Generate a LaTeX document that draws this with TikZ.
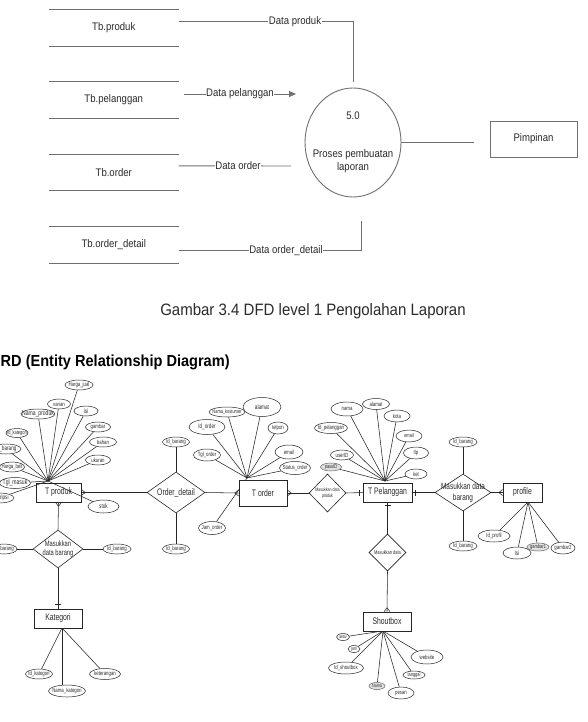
\documentclass[tikz,border=0pt]{standalone}
\usepackage{fontspec}
\setmainfont{Liberation Sans}
\newfontfamily\dfdf[FakeStretch=0.87]{Liberation Sans}
\newfontfamily\erf[FakeStretch=0.72]{Liberation Sans}
\newfontfamily\capf[FakeStretch=0.91]{Liberation Sans}
\usetikzlibrary{shapes.geometric,arrows.meta,backgrounds}
\definecolor{dln}{HTML}{707070}
\definecolor{txc}{HTML}{2B2B2B}
\newcommand\attrnode[7]{\node[attrshape,minimum width=#4pt,minimum height=#5pt,label={[attrlbl,font=\erf\fontsize{#6pt}{#6pt}\selectfont]center:{#7}}] (#1) at (#2,#3) {};}
\newcommand\mkCrowE[1]{\draw[erline] (#1.east) ++(4,0) -- ++(-4,-3) (#1.east) ++(4,0) -- ++(-4,3);}
\newcommand\mkCrowW[1]{\draw[erline] (#1.west) ++(-4,0) -- ++(4,-3) (#1.west) ++(-4,0) -- ++(4,3);}
\newcommand\mkCrowS[1]{\draw[erline] (#1.south) ++(0,4) -- ++(-3,-4) (#1.south) ++(0,4) -- ++(3,-4);}
\newcommand\mkCrowN[1]{\draw[erline] (#1.north) ++(0,-4) -- ++(-3,4) (#1.north) ++(0,-4) -- ++(3,4);}
\newcommand\mkBarW[1]{\draw[erline] (#1.west) ++(-3,-3) -- ++(0,6);}
\newcommand\mkBarE[1]{\draw[erline] (#1.east) ++(3,-3) -- ++(0,6);}
\newcommand\mkBarS[1]{\draw[erline] (#1.south) ++(-3,3) -- ++(6,0);}
\newcommand\mkBarN[1]{\draw[erline] (#1.north) ++(-3,-4) -- ++(6,0);}
\begin{document}
\begin{tikzpicture}[x=1pt,y=-1pt,
  dfdline/.style={draw=dln,line width=0.9pt},
  dfdtxt/.style={font=\dfdf\fontsize{11pt}{13pt}\selectfont,text=txc,inner sep=0.5pt},
  flowlbl/.style={dfdtxt,fill=white,inner sep=0.6pt},
  store/.style={dfdtxt,minimum width=129.5pt,minimum height=36pt,inner sep=0pt},
  erline/.style={draw=black!85,line width=0.55pt},
  ent/.style={rectangle,draw=black!85,line width=0.6pt,inner sep=0pt,text=txc,font=\erf\fontsize{9.5pt}{10pt}\selectfont},
  rel/.style={diamond,draw=black!85,fill=white,line width=0.6pt,inner sep=0pt},
  rellbl/.style={inner sep=0pt,text=txc,align=center},
  attrshape/.style={ellipse,draw=black!85,fill=white,line width=0.5pt,inner sep=0pt},
  attrlbl/.style={inner sep=0pt,text=txc},
]
\useasboundingbox (0,0) rectangle (588,722);
\begin{pgfonlayer}{background}
\fill[white] (0,0) rectangle (588,722);
\end{pgfonlayer}

% ---------------- DFD ----------------
\node[store] (tbprod) at (113.75,28) {Tb.produk};
\node[store] (tbpel) at (113.75,100) {Tb.pelanggan};
\node[store] (tbord) at (113.75,172.5) {Tb.order};
\node[store] (tbod) at (113.75,245) {Tb.order\_detail};
\foreach \s in {tbprod,tbpel,tbord,tbod}
  \draw[dfdline] (\s.north west) -- (\s.north east) (\s.south west) -- (\s.south east);

\node[ellipse,draw=dln,line width=0.9pt,minimum width=96pt,minimum height=109pt,inner sep=0pt] (proc) at (353,142.5) {};
\node[dfdtxt] (procnum) at (353,116) {5.0};
\node[dfdtxt,align=center] (proctxt) at (353,161.5) {Proses pembuatan\\laporan};
\node[rectangle,draw=dln,line width=0.9pt,minimum width=87pt,minimum height=36pt,dfdtxt] (pimp) at (533.5,139) {Pimpinan};

\coordinate (pdEnd) at (353,82);
\coordinate (pelS) at (184,94);
\coordinate (pelE) at (296,94);
\coordinate (ordE) at (291,166);
\coordinate (odEnd) at (361,221);
\coordinate (pimpE) at (474,142.5);

\draw[dfdline] (tbprod.north east) ++(0,12) -| (pdEnd);
\node[flowlbl] (lprod) at (295,22) {Data produk};
\draw[dfdline,-{Triangle[length=7pt,width=6pt]}] (pelS) -- (pelE);
\node[flowlbl] (lpel) at (240,94) {Data pelanggan};
\draw[dfdline] (tbord.north east) ++(0,11.5) -- (ordE);
\node[flowlbl] (lord) at (238,166) {Data order};
\draw[dfdline] (tbod.north east) ++(0,23.5) -| (odEnd);
\node[flowlbl] (lod) at (286,250.5) {Data order\_detail};
\draw[dfdline] (proc.east) -- (pimpE);

\node[anchor=base,font=\capf\fontsize{16.5pt}{18pt}\selectfont,text=txc,inner sep=0pt] (cap) at (313,315) {Gambar 3.4 DFD level 1 Pengolahan Laporan};

% ---------------- ERD ----------------
\node[anchor=base west,font=\capf\bfseries\fontsize{16pt}{18pt}\selectfont,text=black,inner sep=0pt] (erdh) at (0.5,366.5) {RD (Entity Relationship Diagram)};

% entities
\node[ent,minimum width=45pt,minimum height=19pt] (tprod) at (58.5,492.5) {T produk};
\node[ent,fill=white,minimum width=48pt,minimum height=26pt] (tord) at (263,493) {T order};
\node[ent,fill=white,minimum width=49pt,minimum height=19pt] (tpel) at (387.5,492.5) {T Pelanggan};
\node[ent,fill=white,minimum width=39pt,minimum height=19pt] (prof) at (522.5,492.5) {profile};
\node[ent,fill=white,minimum width=48pt,minimum height=19pt] (kat) at (58,618.5) {Kategori};
\node[ent,fill=white,minimum width=48pt,minimum height=19pt] (sbox) at (387,621.5) {Shoutbox};

% relationships
\node[rel,minimum width=58pt,minimum height=41pt,label={[rellbl,font=\erf\fontsize{9.5pt}{10pt}\selectfont]center:Order\_detail}] (odd) at (176,492.5) {};
\node[rel,minimum width=37pt,minimum height=38pt,label={[rellbl,font=\erf\fontsize{5pt}{6pt}\selectfont]center:{Masukkan data\\produk}}] (mdp) at (327.5,493) {};
\node[rel,minimum width=56pt,minimum height=37pt,label={[rellbl,font=\erf\fontsize{9pt}{10.5pt}\selectfont]center:{Masukkan data\\barang}}] (mdb2) at (463,492.5) {};
\node[rel,minimum width=37pt,minimum height=37pt,label={[rellbl,font=\erf\fontsize{5.5pt}{6pt}\selectfont]center:{Masukkan data}}] (mdata) at (387.5,552.5) {};
\node[rel,minimum width=50pt,minimum height=38pt,label={[rellbl,font=\erf\fontsize{8pt}{9.5pt}\selectfont]center:{Masukkan\\data barang}}] (mdb1) at (58,549) {};

% hubs
\coordinate (hp) at (48,481);
\coordinate (ho) at (247,478);
\coordinate (hpel) at (385,481);
\coordinate (hpr) at (528,502);
\coordinate (hsb) at (383,631);
\coordinate (hk) at (62,628);

% attributes of T produk
\attrnode{hjual}{79}{385}{28}{10}{6}{Harga\_jual}
\attrnode{varian}{59}{404}{23}{10}{6}{varian}
\attrnode{nprod}{38}{414}{34}{10}{7}{Nama\_produk}
\attrnode{isi}{86}{411}{24}{10}{6.5}{isi}
\attrnode{idkat}{17}{433}{22}{9}{5.5}{Id\_kategori}
\attrnode{gambar}{98}{427}{25}{10}{6}{gambar}
\attrnode{idbarA}{6}{449}{30}{10}{6.5}{Id\_barang}
\attrnode{bahan}{103}{442}{27}{10}{6}{bahan}
\attrnode{hbeli}{12}{467}{25}{10}{6}{Harga\_beli}
\attrnode{ukuran}{98}{460}{25}{10}{6}{ukuran}
\attrnode{tglm}{15}{483}{31}{11}{7}{Tgl\_masuk}
\attrnode{desk}{-1}{498}{30}{10}{6.5}{Deskripsi}
\attrnode{stok}{103.5}{506.5}{31}{13}{6.5}{stok}
% attributes of T order
\attrnode{alamatA}{262}{407}{38}{19}{6.5}{alamat}
\attrnode{nkost}{227}{412}{36}{10}{5.5}{Nama\_kostumer}
\attrnode{idord}{207}{427}{36}{15}{6.5}{Id\_order}
\attrnode{telpon}{278}{428}{20}{12}{6}{telpon}
\attrnode{tglord}{207}{455}{27}{12}{6}{Tgl\_order}
\attrnode{emailA}{289}{452}{28}{14}{6}{email}
\attrnode{status}{295}{468}{31}{13}{6}{Status\_order}
\attrnode{jamord}{212}{528}{27}{13}{6}{Jam\_order}
% Order_detail attributes
\attrnode{idbarB}{176}{442}{27}{10}{6}{Id\_barang}
\attrnode{idbarC}{176}{549}{27}{10}{6}{Id\_barang}
% attributes of T Pelanggan
\attrnode{nama}{347}{409}{32}{14}{6}{nama}
\attrnode{alamatB}{376}{404}{27}{11}{6}{alamat}
\attrnode{kota}{397}{416}{26}{12}{6}{kota}
\attrnode{idpel}{331}{428}{33}{11}{6}{Id\_pelanggan}
\attrnode{emailB}{409}{436}{26}{12}{5.5}{email}
\attrnode{userid}{342}{455}{23}{10}{6}{userID}
\attrnode{tlp}{416}{453}{25}{12}{6}{tlp}
\node[attrshape,fill=black!12,draw=black!60,minimum width=21pt,minimum height=8pt,label={[attrlbl,font=\erf\fontsize{5.5pt}{5.5pt}\selectfont]center:{passID}}] (passid) at (331,467) {};
\attrnode{ket}{416}{474}{22}{10}{6}{ket}
% Masukkan data barang (right) attributes
\attrnode{idbarD}{463}{442}{28}{10}{6}{Id\_barang}
\attrnode{idbarE}{463}{546}{28}{10}{6}{Id\_barang}
% profile attributes
\attrnode{idprof}{494}{536}{32}{12}{6}{Id\_profil}
\attrnode{isiB}{517}{553}{28}{12}{6.5}{Isi}
\node[attrshape,fill=black!12,draw=black!60,minimum width=22pt,minimum height=8pt,label={[attrlbl,font=\erf\fontsize{5.5pt}{5.5pt}\selectfont]center:{gambar1}}] (gbr1) at (538,547) {};
\attrnode{gbr2}{563}{548}{24}{12}{6}{gambar2}
% Shoutbox attributes
\attrnode{aktiv}{343}{637}{13}{7}{5}{aktiv}
\attrnode{jam}{354}{649}{12}{7}{5}{jam}
\attrnode{idsb}{346}{668}{35}{12}{6}{Id\_shoutbox}
\attrnode{website}{427}{657}{32}{14}{6}{website}
\attrnode{tanggal}{414}{675}{22}{8}{5.5}{tanggal}
\node[attrshape,fill=black!12,draw=black!60,minimum width=16pt,minimum height=7pt,label={[attrlbl,font=\erf\fontsize{5pt}{5pt}\selectfont]center:{Nama}}] (namaB) at (377,686) {};
\attrnode{pesan}{401}{693}{26}{12}{6}{pesan}
% Masukkan data barang (left) attributes
\attrnode{idbarF}{4}{549}{26}{10}{6}{Id\_barang}
\attrnode{idbarG}{117}{549}{28}{10}{6}{Id\_barang}
% Kategori attributes
\attrnode{idkatB}{39}{674}{27}{10}{6}{Id\_kategori}
\attrnode{nkat}{67}{691}{37}{12}{6}{Nama\_kategori}
\attrnode{ketB}{105}{674}{31}{11}{6}{keterangan}

% connectors (behind shapes)
\begin{pgfonlayer}{background}
\draw[erline] (tprod.east) -- (odd.west);
\draw[erline] (odd.east) -- (tord.west);
\draw[erline] (tord.east) -- (mdp.west);
\draw[erline] (mdp.east) -- (tpel.west);
\draw[erline] (tpel.east) -- (mdb2.west);
\draw[erline] (mdb2.east) -- (prof.west);
\draw[erline] (tpel.south) -- (mdata.north);
\draw[erline] (mdata.south) -- (sbox.north);
\draw[erline] (tprod.south) -- (mdb1.north);
\draw[erline] (mdb1.south) -- (kat.north);
\draw[erline] (idbarB) -- (odd.north);
\draw[erline] (odd.south) -- (idbarC);
\draw[erline] (idbarD) -- (mdb2.north);
\draw[erline] (mdb2.south) -- (idbarE);
\draw[erline] (mdb1.west) -- (idbarF);
\draw[erline] (mdb1.east) -- (idbarG);
\foreach \a in {hjual,varian,nprod,isi,idkat,gambar,idbarA,bahan,hbeli,ukuran,tglm,desk,stok}
  \draw[erline] (hp) -- (\a);
\foreach \a in {alamatA,nkost,idord,telpon,tglord,emailA,status,jamord}
  \draw[erline] (ho) -- (\a);
\foreach \a in {nama,alamatB,kota,idpel,emailB,userid,tlp,passid,ket}
  \draw[erline] (hpel) -- (\a);
\foreach \a in {idprof,isiB,gbr1,gbr2}
  \draw[erline] (hpr) -- (\a);
\foreach \a in {aktiv,jam,idsb,website,tanggal,namaB,pesan}
  \draw[erline] (hsb) -- (\a);
\draw[erline] (hk) -- (idkatB);
\draw[erline] (hk) -- (hk |- nkat.north);
\draw[erline] (hk) -- (ketB);
\end{pgfonlayer}

% cardinality marks
\mkCrowE{tprod}
\mkCrowS{tprod}
\mkCrowW{tord}
\mkCrowE{tord}
\mkBarW{tpel}
\mkBarE{tpel}
\mkBarS{tpel}
\mkCrowW{prof}
\mkCrowN{sbox}
\mkBarN{kat}
\end{tikzpicture}
\end{document}
